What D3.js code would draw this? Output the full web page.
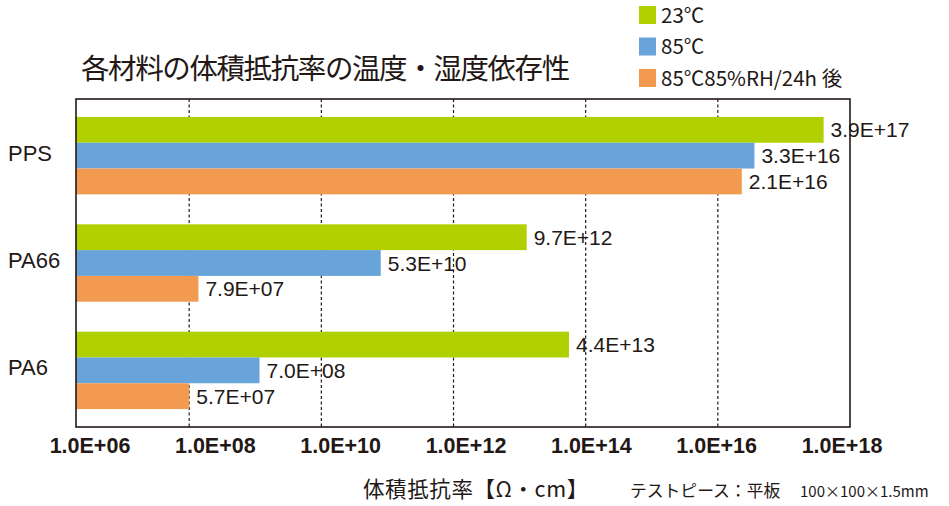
<!DOCTYPE html>
<html><head><meta charset="utf-8">
<script src="https://cdn.jsdelivr.net/npm/d3@7"></script>
<style>
html,body{margin:0;padding:0;background:#fff;}
svg{display:block;}
text{font-family:"Liberation Sans","Noto Sans CJK JP",sans-serif;fill:#231815;}
.jp{font-family:"Noto Sans CJK JP","Noto Sans",sans-serif;}
</style>
</head><body>
<script>
const categories = ["PPS", "PA66", "PA6"];
const seriesNames = ["23℃", "85℃", "85℃85%RH/24h 後"];
const values23 = [3.9e17, 9.7e12, 4.4e13];
const values85 = [3.3e16, 5.3e10, 7.0e8];
const values85RH = [2.1e16, 7.9e7, 5.7e7];
const valueLabels23 = ["3.9E+17", "9.7E+12", "4.4E+13"];
const valueLabels85 = ["3.3E+16", "5.3E+10", "7.0E+08"];
const valueLabels85RH = ["2.1E+16", "7.9E+07", "5.7E+07"];
const tickValues = [1e6, 1e8, 1e10, 1e12, 1e14, 1e16, 1e18];
const tickLabels = ["1.0E+06", "1.0E+08", "1.0E+10", "1.0E+12", "1.0E+14", "1.0E+16", "1.0E+18"];
const colors = ["#b1d000", "#68a4d9", "#f39a51"];

const W = 949, H = 506;
const L = 76, R = 850, T = 99, B = 427;

const svg = d3.select("body").append("svg").attr("width", W).attr("height", H);

const series = [values23, values85, values85RH];
const seriesLabels = [valueLabels23, valueLabels85, valueLabels85RH];

// scales
const x = d3.scaleLog().domain([1e6, 1e18]).range([L, R]);
const xGrid = d3.scaleLog().domain([1e6, 1e18]).range([57, R]);
const xLabel = d3.scaleLog().domain([1e6, 1e18]).range([90, 842]);
const y0 = d3.scaleBand().domain(categories).range([T, B]).paddingInner(0.279).paddingOuter(0.167);
const y1 = d3.scaleBand().domain(d3.range(3)).range([0, y0.bandwidth()]);

// gridlines
svg.append("g").selectAll("line").data(tickValues.slice(1, -1)).join("line")
  .attr("x1", d => xGrid(d)).attr("x2", d => xGrid(d))
  .attr("y1", T).attr("y2", B)
  .attr("stroke", "#231815").attr("stroke-width", 1.2).attr("stroke-dasharray", "3,2.5");

// bars
const groups = svg.append("g").selectAll("g").data(categories).join("g")
  .attr("transform", c => `translate(0,${y0(c)})`);
groups.each(function(c, ci) {
  const g = d3.select(this);
  series.forEach((s, si) => {
    g.append("rect")
      .attr("x", x(1e6)).attr("y", y1(si))
      .attr("width", x(s[ci]) - x(1e6)).attr("height", y1.bandwidth())
      .attr("fill", colors[si]);
    g.append("text")
      .attr("x", x(s[ci]) + 7).attr("y", y1(si) + y1.bandwidth() / 2)
      .attr("dy", "0.36em").attr("font-size", 21)
      .text(seriesLabels[si][ci]);
  });
});

// frame
svg.append("rect").attr("x", L).attr("y", T).attr("width", R - L).attr("height", B - T)
  .attr("fill", "none").attr("stroke", "#231815").attr("stroke-width", 1.6);

// category labels
svg.append("g").selectAll("text").data(categories).join("text")
  .attr("x", 8).attr("y", c => y0(c) + y0.bandwidth() / 2 + 5)
  .attr("font-size", 22).text(c => c);

// x tick labels
svg.append("g").selectAll("text").data(tickValues).join("text")
  .attr("x", d => xLabel(d)).attr("y", 453)
  .attr("text-anchor", "middle").attr("font-size", 21.5).attr("font-weight", "bold")
  .text((d, i) => tickLabels[i]);

// axis title
svg.append("text").attr("class", "jp").attr("x", 363).attr("y", 497)
  .attr("font-size", 21.5).attr("letter-spacing", 0.6).text("体積抵抗率【Ω・cm】");

// note
svg.append("text").attr("class", "jp").attr("x", 630).attr("y", 497)
  .attr("font-size", 16.8).text("テストピース：平板");
svg.append("text").attr("class", "jp").attr("x", 800).attr("y", 497)
  .attr("font-size", 15).text("100×100×1.5mm");

// title
svg.append("text").attr("class", "jp").attr("x", 81).attr("y", 79)
  .attr("font-size", 28.5).attr("letter-spacing", -1.4).text("各材料の体積抵抗率の温度・湿度依存性");

// legend
const lg = svg.append("g").selectAll("g").data(seriesNames).join("g")
  .attr("transform", (d, i) => `translate(639,${6 + i * 31.5})`);
lg.append("rect").attr("width", 17).attr("height", 18).attr("fill", (d, i) => colors[i]);
lg.append("text").attr("class", "jp").attr("x", 22).attr("y", 16.5).attr("font-size", 20.5).text(d => d);
</script>
</body></html>
